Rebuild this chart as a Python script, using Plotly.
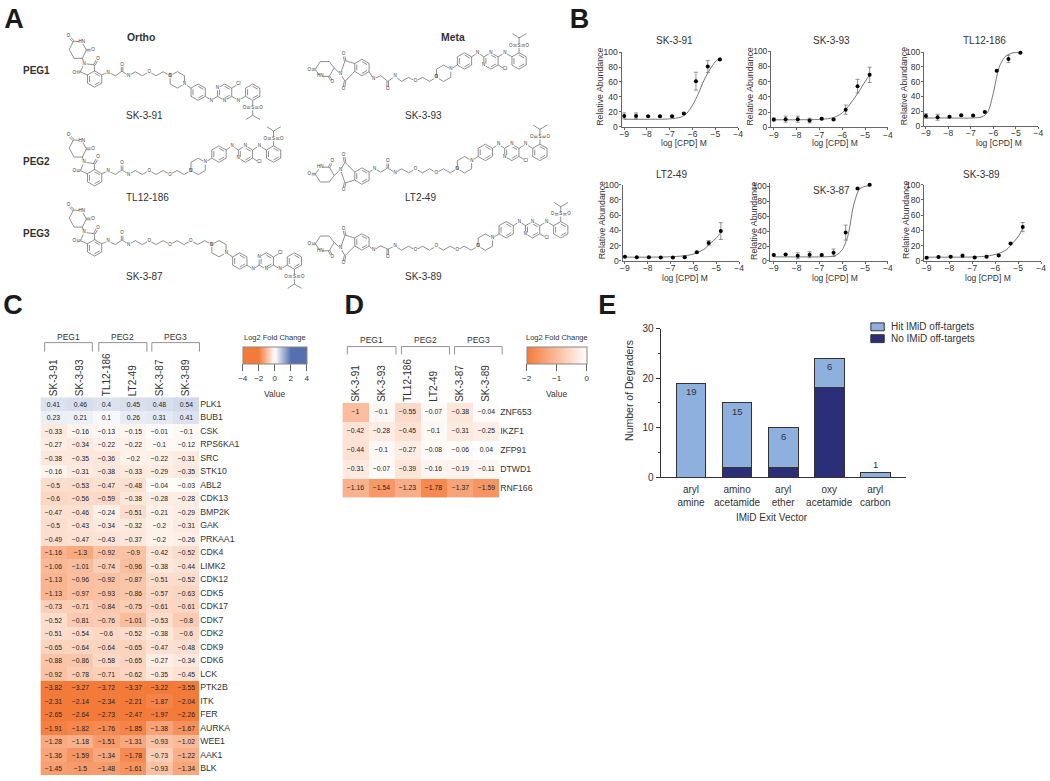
import math
import plotly.graph_objects as go

W, H = 1050, 781
SANS = "Liberation Sans"
INK = "#333333"

# ---------- data: panel C ----------
c_compounds = ["SK-3-91", "SK-3-93", "TL12-186", "LT2-49", "SK-3-87", "SK-3-89"]
c_targets = ["PLK1", "BUB1", "CSK", "RPS6KA1", "SRC", "STK10", "ABL2", "CDK13", "BMP2K", "GAK", "PRKAA1",
             "CDK4", "LIMK2", "CDK12", "CDK5", "CDK17", "CDK7", "CDK2", "CDK9", "CDK6", "LCK",
             "PTK2B", "ITK", "FER", "AURKA", "WEE1", "AAK1", "BLK"]
c_values = [
    [0.41, 0.46, 0.4, 0.45, 0.48, 0.54],
    [0.23, 0.21, 0.1, 0.26, 0.31, 0.41],
    [-0.33, -0.16, -0.13, -0.15, -0.01, -0.1],
    [-0.27, -0.34, -0.22, -0.22, -0.1, -0.12],
    [-0.38, -0.35, -0.36, -0.2, -0.22, -0.31],
    [-0.16, -0.31, -0.38, -0.33, -0.29, -0.35],
    [-0.5, -0.53, -0.47, -0.48, -0.04, -0.03],
    [-0.6, -0.56, -0.59, -0.38, -0.28, -0.28],
    [-0.47, -0.46, -0.24, -0.51, -0.21, -0.29],
    [-0.5, -0.43, -0.34, -0.32, -0.2, -0.31],
    [-0.49, -0.47, -0.43, -0.37, -0.2, -0.26],
    [-1.16, -1.3, -0.92, -0.9, -0.42, -0.52],
    [-1.06, -1.01, -0.74, -0.96, -0.38, -0.44],
    [-1.13, -0.96, -0.92, -0.87, -0.51, -0.52],
    [-1.13, -0.97, -0.93, -0.86, -0.57, -0.63],
    [-0.73, -0.71, -0.84, -0.75, -0.61, -0.61],
    [-0.52, -0.81, -0.76, -1.01, -0.53, -0.8],
    [-0.51, -0.54, -0.6, -0.52, -0.38, -0.6],
    [-0.65, -0.64, -0.64, -0.65, -0.47, -0.48],
    [-0.88, -0.86, -0.58, -0.65, -0.27, -0.34],
    [-0.92, -0.78, -0.71, -0.62, -0.35, -0.45],
    [-3.82, -3.27, -3.72, -3.37, -3.22, -3.55],
    [-2.31, -2.14, -2.34, -2.21, -1.87, -2.04],
    [-2.65, -2.64, -2.73, -2.47, -1.97, -2.26],
    [-1.91, -1.82, -1.76, -1.85, -1.38, -1.67],
    [-1.28, -1.18, -1.51, -1.31, -0.93, -1.02],
    [-1.36, -1.59, -1.34, -1.78, -0.73, -1.22],
    [-1.45, -1.5, -1.48, -1.61, -0.93, -1.34],
]

# ---------- data: panel D ----------
d_targets = ["ZNF653", "IKZF1", "ZFP91", "DTWD1", "RNF166"]
d_values = [
    [-1, -0.1, -0.55, -0.07, -0.38, -0.04],
    [-0.42, -0.28, -0.45, -0.1, -0.31, -0.25],
    [-0.44, -0.1, -0.27, -0.08, -0.06, 0.04],
    [-0.31, -0.07, -0.39, -0.16, -0.19, -0.11],
    [-1.16, -1.54, -1.23, -1.78, -1.37, -1.59],
]

# ---------- data: panel E ----------
e_categories = ["aryl<br>amine", "amino<br>acetamide", "aryl<br>ether", "oxy<br>acetamide", "aryl<br>carbon"]
e_no_offtarget = [0, 2, 2, 18, 0]
e_hit_offtarget = [19, 13, 8, 6, 1]
e_labels = ["19", "15", "6", "6", "1"]

# ---------- data: panel B ----------
dose_log = [-9.0, -8.48, -7.95, -7.43, -6.9, -6.38, -5.85, -5.33, -4.8]
fit_log = [-9, -8, -7, -6.5, -6.25, -6, -5.75, -5.5, -5.25, -5, -4.75]

sk391_mean = [14.5, 14.5, 14, 14, 14, 17.6, 61, 80.6, 90]
sk391_err = [4, 4, 1, 1, 1, 1, 12, 8, 1]
sk391_fit = [10, 10, 10.5, 13, 18, 29, 44, 62, 76, 87, 93]

sk393_mean = [10.3, 10.8, 10.8, 9, 11.2, 10.3, 23.3, 54, 69]
sk393_err = [2, 4, 4, 3, 1, 1, 6, 9, 10]
sk393_fit = [10, 10, 10.5, 12, 14.5, 19, 27, 37, 48, 60, 71]

tl12_mean = [13.8, 12, 12.5, 14.7, 14.2, 19, 74.7, 90.7, 99]
tl12_err = [3, 4, 1, 1, 1, 1, 1, 5, 0.5]
tl12_fit = [11, 11, 11, 12.5, 19, 45, 79, 93, 98, 99.5, 100]

lt249_mean = [5.6, 5, 5, 4.7, 4.7, 5, 11.6, 23.7, 39.2]
lt249_err = [0.5, 0.5, 0.5, 0.5, 0.5, 1, 1, 3, 11]
lt249_fit = [5, 5, 5.5, 6.5, 7.5, 9, 12, 16, 23.5, 30, 39]

sk387_mean = [8, 8.8, 7, 8.4, 8, 11, 38, 97, 102]
sk387_err = [1, 0.5, 4, 4, 1, 5, 10, 1, 1]
sk387_fit = [5.5, 5.5, 5.5, 6, 8, 15, 34, 75, 96, 100, 101]

sk389_mean = [4.3, 5.2, 5.6, 6.9, 4.7, 5.6, 7.3, 22.8, 44.4]
sk389_err = [1, 1, 1, 2, 1, 1, 1, 1, 6]
sk389_fit = [5, 5, 5.2, 6, 7, 8.5, 11, 15, 23, 32, 45]

dose_series = [
    ("SK-3-91", sk391_mean, sk391_err, sk391_fit),
    ("SK-3-93", sk393_mean, sk393_err, sk393_fit),
    ("TL12-186", tl12_mean, tl12_err, tl12_fit),
    ("LT2-49", lt249_mean, lt249_err, lt249_fit),
    ("SK-3-87", sk387_mean, sk387_err, sk387_fit),
    ("SK-3-89", sk389_mean, sk389_err, sk389_fit),
]
# pixel frames: left spine x, x of -9, x of -4, y of 100, y of 0, title x, title y, y-title x, x-title x, x-title y
dose_frames = [
    (623.3, 626.0, 740.7, 47.7, 123.3, 676.7, 36, 602, 686.7, 140),
    (774.0, 776.7, 891.7, 46.7, 124.0, 835.0, 36, 753, 838, 140),
    (928.0, 930.0, 1043.3, 47.7, 122.7, 989.0, 36, 908, 1003.7, 140),
    (624.3, 626.7, 741.7, 182.0, 259.3, 674.0, 172, 603, 687.7, 276.7),
    (773.3, 776.7, 891.7, 183.7, 259.3, 835.0, 188, 756, 838, 276.7),
    (928.0, 930.7, 1046.0, 182.0, 259.3, 986.0, 172, 910, 993, 276.7),
]

fig = go.Figure()
axes = {}
annos = []
shapes = []


def px(x):
    return x / W


def py(y):
    return 1 - y / H


def text(x, y, s, size=10, bold=False, family=SANS, color=INK, angle=0, xanchor="center"):
    annos.append(dict(x=px(x), y=py(y), xref="paper", yref="paper", text=f"<b>{s}</b>" if bold else s,
                      showarrow=False, xanchor=xanchor, yanchor="middle", textangle=angle,
                      font=dict(size=size, family=family, color=color)))


def fmt(v):
    return f"{v:g}".replace("-", "\u2212")


# ---------- heatmaps ----------
ORANGE = "#F47A3A"
BLUE = "#5470B0"
CS_C = [[0, ORANGE], [0.25, ORANGE], [0.5, "#FFFFFF"], [0.75, BLUE], [1, BLUE]]
CS_D = [[0, ORANGE], [1, "#FFFFFF"]]


def heatmap(idx, rows, vals, x0, x1, y0, y1, cs, zmin, zmax, cbx0, cbx1, tickvals):
    fig.add_trace(go.Heatmap(
        z=vals, x=c_compounds, y=rows, xaxis=f"x{idx}", yaxis=f"y{idx}",
        colorscale=cs, zmin=zmin, zmax=zmax,
        text=[[fmt(v) for v in r] for r in vals], texttemplate="%{text}",
        textfont=dict(size=6.8, family=SANS, color="#222222"), hoverinfo="skip",
        colorbar=dict(orientation="h", lenmode="pixels", len=cbx1 - cbx0, thicknessmode="pixels", thickness=17,
                      x=px((cbx0 + cbx1) / 2), xanchor="center", y=py(346), yanchor="top", xpad=0, ypad=0,
                      outlinecolor="#888888", outlinewidth=1, tickvals=tickvals,
                      ticktext=[fmt(t) for t in tickvals], ticks="outside", ticklen=7, tickcolor="#666666",
                      tickfont=dict(size=8, family=SANS, color=INK)),
    ))
    axes[f"xaxis{idx}"] = dict(domain=[px(x0), px(x1)], anchor=f"y{idx}", side="top", tickangle=-90,
                               ticks="", tickfont=dict(size=10, family=SANS, color=INK), showgrid=False,
                               zeroline=False, showline=False)
    axes[f"yaxis{idx}"] = dict(domain=[py(y1), py(y0)], anchor=f"x{idx}", side="right", autorange="reversed",
                               ticks="", tickfont=dict(size=8.7, family=SANS, color=INK), showgrid=False,
                               zeroline=False, showline=False)
    text((cbx0 + cbx1) / 2, 337, "Log2 Fold Change", size=7.5)
    text((cbx0 + cbx1) / 2, 394, "Value", size=8.5)


heatmap(1, c_targets, c_values, 37.7, 197.7, 397.3, 780, CS_C, -4, 4, 241.7, 306, [-4, -2, 0, 2, 4])
heatmap(2, d_targets, d_values, 342, 500, 403, 499, CS_D, -2, 0, 527.7, 588, [-2, -1, 0])


def brackets(spans, top, bottom, label_y):
    for name, (a, b) in zip(["PEG1", "PEG2", "PEG3"], spans):
        shapes.append(dict(type="path", xref="paper", yref="paper", line=dict(color="#777777", width=0.8),
                           path=f"M{px(a)},{py(bottom)} L{px(a)},{py(top)} L{px(b)},{py(top)} L{px(b)},{py(bottom)}"))
        text((a + b) / 2, label_y, name, size=8.5)


brackets([(42, 90), (96.5, 145), (150, 198)], 342, 351, 336)
brackets([(347, 396), (401.5, 450), (455, 503)], 346, 354, 339)

# ---------- panel E ----------
LIGHT = "#8DB0DE"
NAVY = "#2A2F78"
E_X0, E_X1 = 662.7, 910.0
fig.add_trace(go.Bar(x=e_categories, y=e_no_offtarget, name="No IMiD off-targets", xaxis="x3", yaxis="y3",
                     marker=dict(color=NAVY, line=dict(color="#333333", width=1)), width=0.647,
                     showlegend=False, hoverinfo="skip"))
fig.add_trace(go.Bar(x=e_categories, y=e_hit_offtarget, name="Hit IMiD off-targets", xaxis="x3", yaxis="y3",
                     marker=dict(color=LIGHT, line=dict(color="#333333", width=1)), width=0.647,
                     showlegend=False, hoverinfo="skip"))
axes["xaxis3"] = dict(domain=[px(E_X0), px(E_X1)], anchor="y3", range=[-0.66, 4.67], showline=True,
                      linecolor=INK, linewidth=1.2, ticks="", tickfont=dict(size=10, family=SANS, color=INK),
                      ticklabelstandoff=3, showgrid=False, zeroline=False)
axes["yaxis3"] = dict(domain=[py(478.3), py(327.7)], anchor="x3", range=[0, 30], tickvals=[0, 10, 20, 30],
                      showline=True, linecolor=INK, linewidth=1.2, ticks="outside", ticklen=4, tickcolor=INK,
                      minor=dict(dtick=5, ticks="outside", ticklen=2, tickcolor=INK),
                      tickfont=dict(size=10, family=SANS, color=INK), showgrid=False, zeroline=False)
text(774.7, 519, "IMiD Exit Vector", size=10)
text(630, 390.7, "Number of Degraders", size=10.5, angle=-90)
for i, lab in enumerate(e_labels):
    total = e_no_offtarget[i] + e_hit_offtarget[i]
    annos.append(dict(x=e_categories[i], y=total, xref="x3", yref="y3", text=lab, showarrow=False,
                      yanchor="bottom" if total < 3 else "top", yshift=0 if total < 3 else -1,
                      font=dict(size=9.5, family=SANS, color=INK)))
for yy, colr, lab in [(326, LIGHT, "Hit IMiD off-targets"), (338, NAVY, "No IMiD off-targets")]:
    shapes.append(dict(type="rect", xref="paper", yref="paper", x0=px(874.5), x1=px(888), y0=py(yy - 4), y1=py(yy + 4),
                       fillcolor=colr, line=dict(color="#333333", width=1)))
    text(893, yy, lab, size=10, xanchor="left")

# ---------- panel B ----------
for n, ((name, mean, err, fit), fr) in enumerate(zip(dose_series, dose_frames)):
    ax = 4 + n
    left, xm9, xm4, y100, y0, tx, ty, ytx, xtx, xty = fr
    unit = (xm4 - xm9) / 5
    xr0 = -9 - (xm9 - left) / unit
    ymax = 104 if max(mean) > 100 else 100
    ytop = y0 - (y0 - y100) * ymax / 100
    fig.add_trace(go.Scatter(x=fit_log, y=fit, mode="lines", xaxis=f"x{ax}", yaxis=f"y{ax}", showlegend=False,
                             cliponaxis=False,
                             line=dict(color="#666666", width=0.9, shape="spline", smoothing=0.8), hoverinfo="skip"))
    fig.add_trace(go.Scatter(x=dose_log, y=mean, mode="markers", xaxis=f"x{ax}", yaxis=f"y{ax}", showlegend=False,
                             cliponaxis=False,
                             marker=dict(color="#000000", size=4), hoverinfo="skip",
                             error_y=dict(type="data", array=err, color="#777777", thickness=0.8, width=2)))
    axes[f"xaxis{ax}"] = dict(domain=[px(left), px(xm4)], anchor=f"y{ax}", range=[xr0, -4], tickvals=[-9, -8, -7, -6, -5, -4],
                              showline=True, linecolor="#666666", linewidth=1.1, ticks="outside", ticklen=2,
                              tickcolor="#666666", tickfont=dict(size=8.5, family=SANS, color=INK), showgrid=False,
                              ticklabelstandoff=-3, zeroline=False)
    axes[f"yaxis{ax}"] = dict(domain=[py(y0), py(ytop)], anchor=f"x{ax}", range=[0, ymax], tickvals=[0, 20, 40, 60, 80, 100],
                              showline=True, linecolor="#666666", linewidth=1.1, ticks="outside", ticklen=2,
                              tickcolor="#666666", tickfont=dict(size=8.5, family=SANS, color=INK), showgrid=False,
                              ticklabelstandoff=-1, zeroline=False)
    text(tx, ty, name, size=10)
    text(ytx, (y0 + y100) / 2 - 3, "Relative Abundance", size=8.8, angle=-90)
    text(xtx, xty, "log [CPD] M", size=8.5)

# ---------- panel A: schematic structures on a full-page overlay axis ----------
bx, by, lx, ly, lt = [], [], [], [], []


def seg(a, b):
    bx.extend([a[0], b[0], None])
    by.extend([a[1], b[1], None])


def poly(pts, close=False):
    for i in range(len(pts) - 1):
        seg(pts[i], pts[i + 1])
    if close:
        seg(pts[-1], pts[0])


def hexagon(c, r, aromatic=False):
    v = [(c[0] + r * math.cos(math.radians(a)), c[1] + r * math.sin(math.radians(a))) for a in range(-90, 270, 60)]
    poly(v, True)
    if aromatic:
        q = [(c[0] + 0.72 * (p[0] - c[0]), c[1] + 0.72 * (p[1] - c[1])) for p in v]
        for i in (0, 2, 4):
            seg(q[i], q[i + 1])


def dbl(a, b, o=0.8):
    dx, dy = b[0] - a[0], b[1] - a[1]
    L = math.hypot(dx, dy) or 1
    nx, ny = -dy / L * o, dx / L * o
    seg((a[0] + nx, a[1] + ny), (b[0] + nx, b[1] + ny))
    seg((a[0] - nx, a[1] - ny), (b[0] - nx, b[1] - ny))


def label(p, s):
    lx.append(p[0])
    ly.append(p[1])
    lt.append(s)


Z = 1 / 3
HEAD_ORTHO = dict(
    ring=[(-12.3, -21), (-20.6, -21), (-25.6, -30), (-21.3, -38.3), (-13, -37.7), (-8.3, -29.3)],
    five=[(-7, -4), (-14.3, -7.3), (-10.6, -15.7), (-0.3, -14.3), (0, -8)],
    cn=(-10.6, -15.7), cj=(-12.3, -21),
    c1=((-14.3, -7.3), (-20.6, -6.7)), c2=((-0.3, -14.3), (3.4, -20.7)),
    c3=((-21.3, -38.3), (-26.3, -43.3)), c4=((-8.3, -29.3), (-1.6, -29.3)),
    nh=(-13, -37.7),
)
HEAD_META = dict(
    ring=[(-28, 0.5), (-33, 9), (-42, 9), (-47, 2), (-42, -6), (-33, -6)],
    five=[(-7.3, -4), (-17, -7), (-21.6, 6.5), (-17, 14), (-7.3, 4)],
    cn=(-21.6, 6.5), cj=(-28, 0.5),
    c1=((-17, -7), (-18.5, -13.5)), c2=((-17, 14), (-18.5, 21.5)),
    c3=((-47, 2), (-53, 2)), c4=((-33, 9), (-30, 15)),
    nh=(-42, 9),
)


def molecule(cx, cy, head, chain, units, tail_sign):
    T = lambda p, f=1: (cx + p[0], cy + f * p[1])
    fl = chain.get("head_flip", 1)
    hexagon((cx, cy), 8.3, True)
    poly([T(p, fl) for p in head["five"]])
    poly([T(p, fl) for p in head["ring"]], True)
    seg(T(head["cn"], fl), T(head["cj"], fl))
    for k in ("c1", "c2", "c3", "c4"):
        a, b = head[k]
        dbl(T(a, fl), T(b, fl))
        label(T(b, fl), "O")
    label(T(head["cn"], fl), "N")
    label(T(head["nh"], fl), "HN")
    # linker
    pts = [(a * Z, b * Z) for a, b in chain["lead"]]
    natoms = 3 * units + 3
    kx, even, odd = chain["kx"], chain["even"], chain["odd"]
    for k in range(natoms):
        pts.append(((kx + 21 * k) * Z, (even if k % 2 == 0 else odd) * Z))
    abs_pts = [T(p) for p in pts]
    poly(abs_pts)
    label(abs_pts[1], "N")
    label(abs_pts[4], "N")
    c_atom, o_atom = abs_pts[3], T((chain["oxy"][0] * Z, chain["oxy"][1] * Z))
    dbl(c_atom, o_atom)
    label(o_atom, "O")
    for k in range(natoms):
        if k % 3 == 2:
            label(abs_pts[5 + k], "O")
    nx, ny = abs_pts[-1]
    label((nx, ny), "N")
    # tail
    S = lambda a, b: (nx + a * Z, ny + tail_sign * b * Z)
    hexagon(S(22, 12.5), 8.3)
    seg(S(44, 25), S(63, 37.5))
    label(S(44, 25), "N")
    hexagon(S(85, 50), 8.3, True)
    poly([S(107, 62.5), S(125, 75), S(143, 62.5)])
    label(S(125, 75), "N")
    hexagon(S(165, 50), 8.3, True)
    label(S(143, 37.5), "N")
    label(S(165, 75), "N")
    poly([S(187, 62.5), S(207, 75), S(228, 62.5)])
    label(S(207, 75), "N")
    seg(S(187, 37.5), S(207, 25))
    label(S(207, 25), "Cl")
    hexagon(S(250, 50), 8.3, True)
    seg(S(250, 75), S(250, 97))
    label(S(250, 97), "S")
    dbl(S(250, 97), S(226, 97), 0.7)
    dbl(S(250, 97), S(274, 97), 0.7)
    label(S(225, 97), "O")
    label(S(275, 97), "O")
    seg(S(250, 97), S(250, 120))
    seg(S(250, 120), S(230, 133))
    seg(S(250, 120), S(272, 133))


CHAIN_ORTHO = dict(lead=[(22, -13), (41, -20), (63, -10), (83, -24), (103, -10)], oxy=(83, -44),
                   kx=123, even=-22, odd=-10)
CHAIN_M93 = dict(lead=[(22, 13), (35, 35), (57, 25), (78, 42), (100, 27)], oxy=(78, 65), kx=120, even=42, odd=30)
CHAIN_M49 = dict(lead=[(22, -13), (38, -22), (57, -12), (78, -25), (100, -10)], oxy=(78, -45), kx=120, even=-22, odd=-10,
                 head_flip=-1)
CHAIN_M89 = dict(lead=[(22, 13), (35, 25), (57, 12), (78, 22), (100, 13)], oxy=(78, 45), kx=120, even=25, odd=13)

molecule(92.3, 75, HEAD_ORTHO, CHAIN_ORTHO, 1, 1)
molecule(92.3, 175, HEAD_ORTHO, CHAIN_ORTHO, 2, -1)
molecule(92.3, 246, HEAD_ORTHO, CHAIN_ORTHO, 3, 1)
molecule(361.7, 63.3, HEAD_META, CHAIN_M93, 1, -1)
molecule(361.7, 173.3, HEAD_META, CHAIN_M49, 2, -1)
molecule(361.7, 240, HEAD_META, CHAIN_M89, 3, -1)

fig.add_trace(go.Scatter(x=bx, y=by, mode="lines", xaxis="x10", yaxis="y10", showlegend=False, hoverinfo="skip",
                         line=dict(color="#444444", width=0.6)))
fig.add_trace(go.Scatter(x=lx, y=ly, mode="markers+text", xaxis="x10", yaxis="y10", showlegend=False, hoverinfo="skip",
                         text=lt, textposition="middle center", textfont=dict(size=4.5, family=SANS, color="#333333"),
                         marker=dict(color="#FFFFFF", size=5, line=dict(width=0))))
axes["xaxis10"] = dict(domain=[0, 1], range=[0, W], visible=False, anchor="y10", fixedrange=True)
axes["yaxis10"] = dict(domain=[0, 1], range=[H, 0], visible=False, anchor="x10", fixedrange=True)

text(139, 33, "Ortho", size=10.4, bold=True)
text(453, 33, "Meta", size=10.4, bold=True)
for name, yy in [("PEG1", 66), ("PEG2", 159), ("PEG3", 231)]:
    text(34, yy, name, size=10, bold=True)
for name, xx, yy in [("SK-3-91", 143, 112), ("TL12-186", 146, 195), ("SK-3-87", 143, 275),
                     ("SK-3-93", 424, 112), ("LT2-49", 421, 195), ("SK-3-89", 424, 275)]:
    text(xx, yy, name, size=10)

# panel letters
letters = ["A", "B", "C", "D", "E"]
letter_x = [11, 581, 10, 354, 609]
letter_y = [16, 16, 306, 306, 306]
fig.add_trace(go.Scatter(x=letter_x, y=letter_y, text=letters, mode="text", xaxis="x10", yaxis="y10", showlegend=False,
                         hoverinfo="skip", textposition="middle center", cliponaxis=False,
                         textfont=dict(size=27, family=SANS, color="#1a1a1a", weight=700)))

fig.update_layout(width=W, height=H, margin=dict(l=0, r=0, t=0, b=0), paper_bgcolor="white", plot_bgcolor="rgba(0,0,0,0)",
                  barmode="stack", annotations=annos, shapes=shapes, showlegend=False,
                  font=dict(family=SANS, color=INK), **axes)
fig.write_html("out.html", post_script="document.body.style.margin='0';", config={"displayModeBar": False})
